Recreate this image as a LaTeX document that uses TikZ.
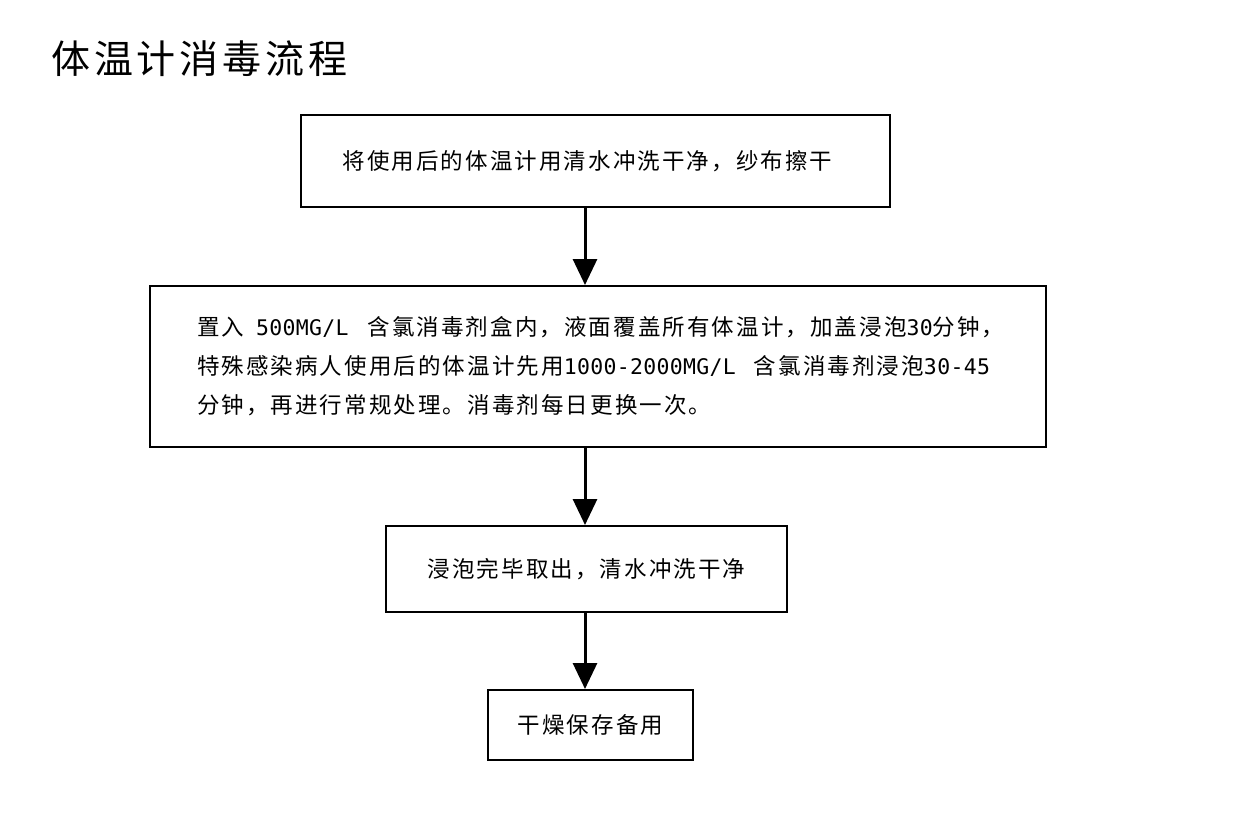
\documentclass[tikz,border=0pt]{standalone}
\usepackage{fontspec}
\usetikzlibrary{arrows.meta}
\newfontfamily\cjkfont[LetterSpace=9.3]{Noto Sans CJK SC}
\newfontfamily\titlefont[LetterSpace=10]{Noto Sans CJK SC}
\newfontfamily\latfont[LetterSpace=1.5]{DejaVu Sans Mono}
\newcommand\lat[1]{{\latfont\fontsize{21.5}{39}\selectfont #1}}
\tikzset{
  box/.style={draw=black, line width=2pt, inner sep=0pt,
    font=\cjkfont\fontsize{22.5}{39}\selectfont},
  flow/.style={line width=3pt, -{Triangle[width=24pt,length=26pt]}},
  titletext/.style={anchor=west, inner sep=0pt,
    font=\titlefont\fontsize{39}{39}\selectfont}
}
\begin{document}
\begin{tikzpicture}[x=1pt,y=-1pt]
  \fill[white] (0,0) rectangle (1242,828);
  \useasboundingbox (0,0) rectangle (1242,828);

  \node[titletext] (title) at (51,59) {体温计消毒流程};

  \node[box, minimum width=589pt, minimum height=92pt] (b1) at (595.5,161)
    {将使用后的体温计用清水冲洗干净，纱布擦干\kern16pt};

  \node[box, minimum width=896pt, minimum height=161pt,
        text width=802pt, align=left] (b2) at (598,366.5)
    {置入\kern12pt\lat{500MG/L}\kern19pt含氯消毒剂盒内，液面覆盖所有体温计，加盖浸泡\lat{30}分钟，\\
     特殊感染病人使用后的体温计先用\lat{1000-2000MG/L}\kern18pt含氯消毒剂浸泡\lat{30-45}\\
     分钟，再进行常规处理。消毒剂每日更换一次。};

  \node[box, minimum width=401pt, minimum height=86pt] (b3) at (586.5,569)
    {浸泡完毕取出，清水冲洗干净};

  \node[box, minimum width=205pt, minimum height=70pt] (b4) at (590.5,725)
    {干燥保存备用};

  \coordinate (ax) at (585,0);
  \draw[flow] (b1.south -| ax) -- (b2.north -| ax);
  \draw[flow] (b2.south -| ax) -- (b3.north -| ax);
  \draw[flow] (b3.south -| ax) -- (b4.north -| ax);
\end{tikzpicture}
\end{document}
